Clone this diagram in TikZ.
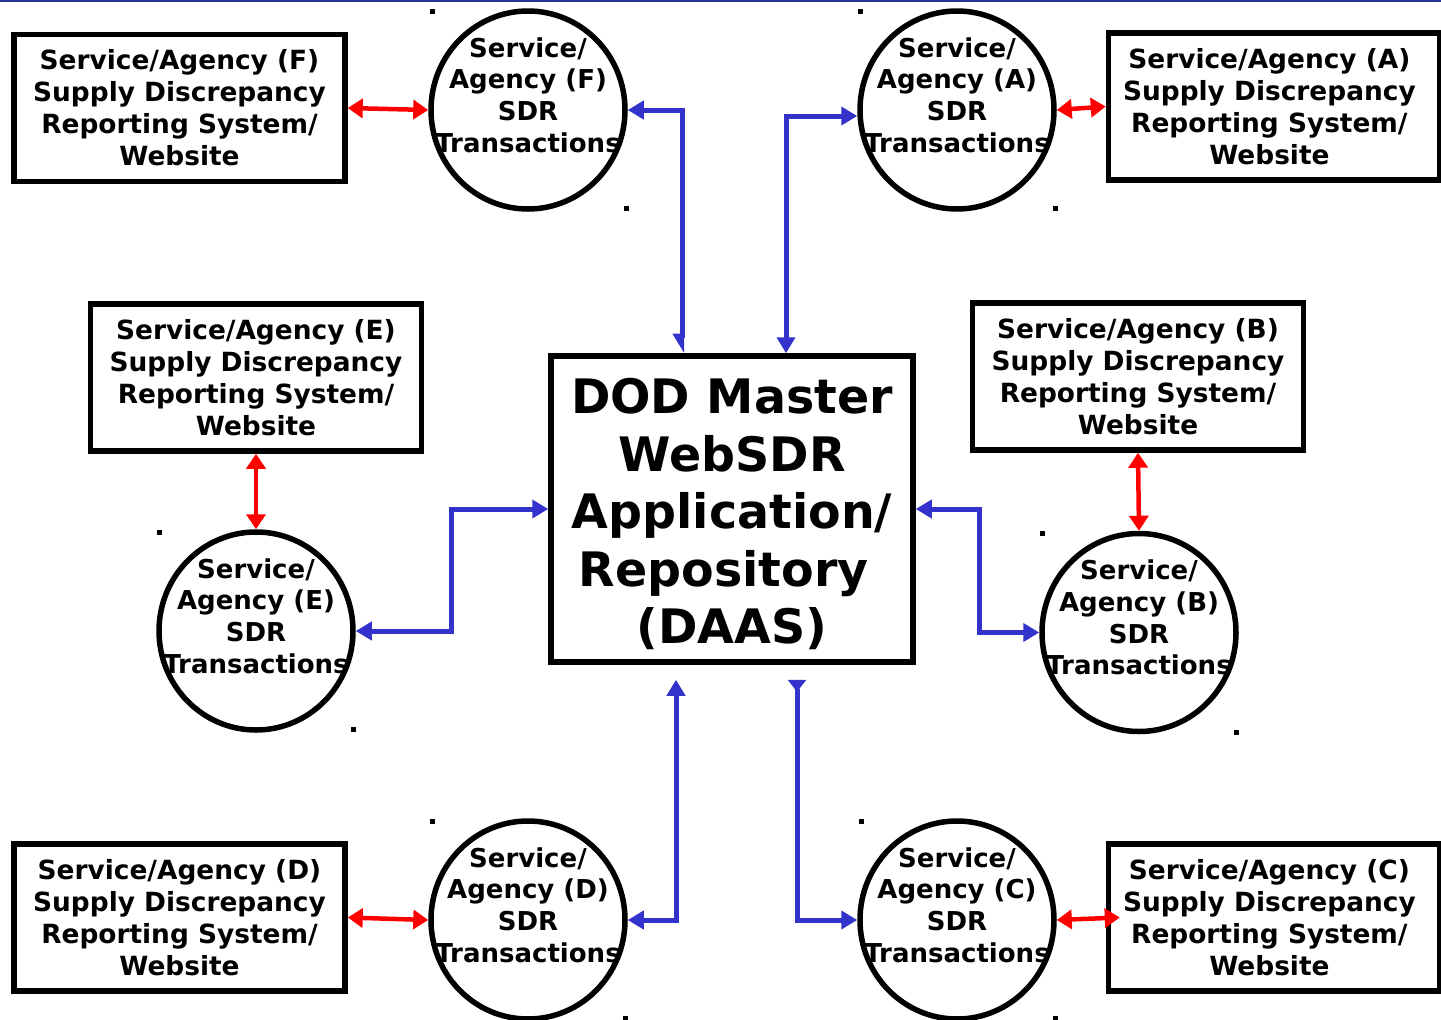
\documentclass[tikz,border=0pt]{standalone}
\usepackage{fontspec}
\setmainfont{DejaVu Sans}
\usetikzlibrary{arrows.meta,shapes.geometric,calc}
\definecolor{conblue}{RGB}{51,51,204}
\definecolor{topblue}{RGB}{40,50,150}
\begin{document}
\begin{tikzpicture}[x=1pt,y=-1pt,
  sysbox/.style={rectangle,draw,line width=5.5pt,inner sep=0pt,align=center,
    font=\bfseries\fontsize{26.4}{32}\selectfont,minimum width=331pt,minimum height=147pt},
  mainbox/.style={rectangle,draw,line width=5.5pt,inner sep=0pt,minimum width=362pt,minimum height=306pt},
  maintext/.style={align=center,inner sep=0pt,font=\bfseries\fontsize{47.5}{57.5}\selectfont},
  txn/.style={ellipse,draw,line width=5.5pt,inner sep=0pt,minimum width=194pt,minimum height=198pt},
  txntext/.style={align=center,inner sep=0pt,font=\bfseries\fontsize{26}{31.7}\selectfont},
  redlink/.style={draw=red,line width=4.5pt,
    {Triangle[width=19pt,length=15pt]}-{Triangle[width=19pt,length=15pt]}},
  bluelink/.style={draw=conblue,line width=5pt}]
\useasboundingbox (0,0) rectangle (1441,1020);
\fill[topblue] (0,0) rectangle (1441,2);

% central repository
\node[mainbox] (main) at (732,509) {};
\node[maintext] (mtext) at ([yshift=-5pt]main.center) {DOD Master\\WebSDR\\Application/\\\mbox{Repository~}\\(DAAS)};

% system boxes
\node[sysbox] (bF) at (179.5,108) {Service/Agency (F)\\Supply Discrepancy\\Reporting System/\\Website};
\node[sysbox] (bA) at (1274,106.5) {\mbox{Service/Agency (A)~}\\\mbox{Supply Discrepancy~}\\\mbox{Reporting System/~}\\\mbox{Website~}};
\node[sysbox] (bE) at (256,377.5) {Service/Agency (E)\\Supply Discrepancy\\Reporting System/\\Website};
\node[sysbox] (bB) at (1138,376.5) {Service/Agency (B)\\Supply Discrepancy\\Reporting System/\\Website};
\node[sysbox] (bD) at (179.5,917.5) {Service/Agency (D)\\Supply Discrepancy\\Reporting System/\\Website};
\node[sysbox] (bC) at (1274,917.5) {\mbox{Service/Agency (C)~}\\\mbox{Supply Discrepancy~}\\\mbox{Reporting System/~}\\\mbox{Website~}};

% transaction circles
\node[txn] (cF) at (528,110) {};
\node[txn] (cA) at (957,110) {};
\node[txn] (cE) at (256,631) {};
\node[txn] (cB) at (1139,632.5) {};
\node[txn] (cD) at (528,920) {};
\node[txn] (cC) at (957,920) {};
\node[txntext] (tF) at ([yshift=15pt]cF.center) {Service/\\Agency (F)\\SDR\\Transactions};
\node[txntext] (tA) at ([yshift=15pt]cA.center) {Service/\\Agency (A)\\SDR\\Transactions};
\node[txntext] (tE) at ([yshift=15pt]cE.center) {Service/\\Agency (E)\\SDR\\Transactions};
\node[txntext] (tB) at ([yshift=15pt]cB.center) {Service/\\Agency (B)\\SDR\\Transactions};
\node[txntext] (tD) at ([yshift=15pt]cD.center) {Service/\\Agency (D)\\SDR\\Transactions};
\node[txntext] (tC) at ([yshift=15pt]cC.center) {Service/\\Agency (C)\\SDR\\Transactions};

% selection handles
\foreach \p in {(432,11),(626,208),(860,11),(1055,208),(159,532),(353,729),
                (1042,533),(1236,732),(432,821),(625,1018),(861,821),(1055,1018)}
  \fill \p +(-2.5,-2.5) rectangle +(2.5,2.5);

% red links
\draw[redlink] (bF.east) -- (cF.west);
\draw[redlink] (cA.east) -- (bA.west);
\draw[redlink] (bE.south) -- (cE.north);
\draw[redlink] (bB.south) -- (cB.north);
\draw[redlink] (bD.east) -- (cD.west);
\draw[redlink] (cC.east) -- ([xshift=14pt]bC.west);

% blue links
\coordinate (mF) at ([xshift=-50pt]main.north);
\coordinate (mA) at ([xshift=54pt]main.north);
\coordinate (mD) at ([xshift=-56pt,yshift=-15pt]main.south);
\coordinate (mC) at ([xshift=65pt,yshift=-15pt]main.south);
\draw[bluelink,{Triangle[width=18pt,length=16pt]}-{Triangle[width=18pt,length=16pt,right]}] (cF.east) -| (mF);
\draw[bluelink,{Triangle[width=18pt,length=16pt]}-{Triangle[width=18pt,length=16pt]}] (mA) |- ([yshift=-6pt]cA.west);
\draw[bluelink,{Triangle[width=18pt,length=16pt]}-{Triangle[width=18pt,length=16pt]}] (main.west) -- ++(-97,0) |- (cE.east);
\draw[bluelink,{Triangle[width=18pt,length=16pt]}-{Triangle[width=18pt,length=16pt]}] (main.east) -- ++(64,0) |- (cB.west);
\draw[bluelink,{Triangle[width=18pt,length=16pt]}-{Triangle[width=18pt,length=16pt]}] (mD) |- (cD.east);
\draw[bluelink,{Triangle[width=18pt,length=12pt,reversed]}-{Triangle[width=18pt,length=16pt]}] (mC) |- (cC.west);
\end{tikzpicture}
\end{document}
